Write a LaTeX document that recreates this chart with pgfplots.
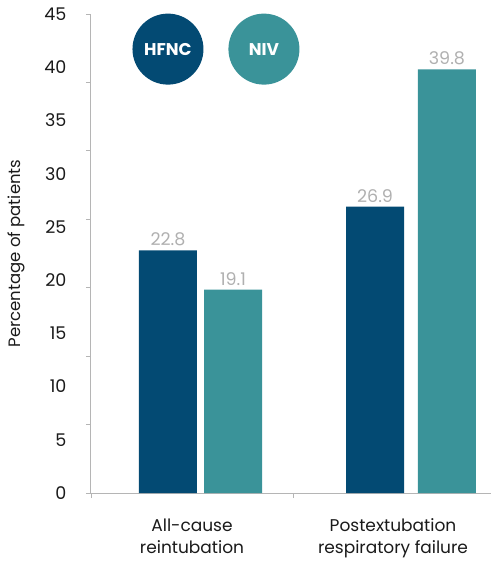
\documentclass[border=0pt]{standalone}
\usepackage{fontspec}
\setmainfont{Poppins}
\usepackage{pgfplots}
\pgfplotsset{compat=1.18}

\definecolor{hfnc}{HTML}{034A73}
\definecolor{niv}{HTML}{3A9399}
\definecolor{vallab}{HTML}{B0B0B0}
\definecolor{axisgrey}{HTML}{B5B5B5}
\definecolor{ticktext}{HTML}{1A1A1A}

\begin{document}
\begin{tikzpicture}
\path[use as bounding box] (-91bp,-71bp) rectangle (400bp,493bp);
\begin{axis}[
  at={(0,0)}, anchor=south west,
  scale only axis,
  width=400bp, height=479bp,
  xmin=0, xmax=1.98,
  ymin=0, ymax=45,
  /pgf/number format/assume math mode=true,
  axis lines*=left,
  axis line style={axisgrey, line width=1bp, -},
  every tick/.style={axisgrey, line width=0.8bp},
  tick align=outside,
  major tick length=5bp,
  xtick={0,1}, xticklabels={},
  ytick={0,6.4286,12.8571,19.2857,25.7143,32.1429,38.5714,45},
  yticklabels={},
  extra y ticks={0,5,...,45},
  extra y tick labels={0,5,10,15,20,25,30,35,40,45},
  extra y tick style={major tick length=0pt,
    yticklabel style={xshift=-21bp}},
  extra x ticks={0.5,1.495},
  extra x tick labels={All-cause\\reintubation, Postextubation\\respiratory failure},
  extra x tick style={major tick length=0pt,
    xticklabel style={yshift=-22bp}},
  xticklabel style={align=center, font=\fontsize{17bp}{22bp}\selectfont, text=ticktext},
  yticklabel style={font=\fontsize{17.5bp}{20bp}\selectfont, text=ticktext},
  ylabel={Percentage of patients},
  every axis y label/.style={at={(-91bp,239.5bp)}, anchor=north, rotate=90,
    yshift=-4bp, font=\fontsize{16.5bp}{20bp}\selectfont, text=ticktext},
  clip=false,
  ybar, bar shift=0pt, bar width=0.287,
  nodes near coords,
  every node near coord/.style={font=\fontsize{17.5bp}{18bp}\selectfont, text=vallab, inner sep=4bp},
]
\addplot[fill=hfnc, draw=none] coordinates {(0.381,22.8) (1.406,26.9)};
\addplot[fill=niv, draw=none] coordinates {(0.703,19.1) (1.762,39.8)};

% legend badges
\node[circle, fill=hfnc, minimum size=71bp, inner sep=0pt, text=white,
  font=\bfseries\fontsize{17bp}{18bp}\selectfont] at (axis cs:0.381,41.7) {HFNC};
\node[circle, fill=niv, minimum size=71bp, inner sep=0pt, text=white,
  font=\bfseries\fontsize{17bp}{18bp}\selectfont] at (axis cs:0.856,41.7) {NIV};
\end{axis}
\end{tikzpicture}
\end{document}
